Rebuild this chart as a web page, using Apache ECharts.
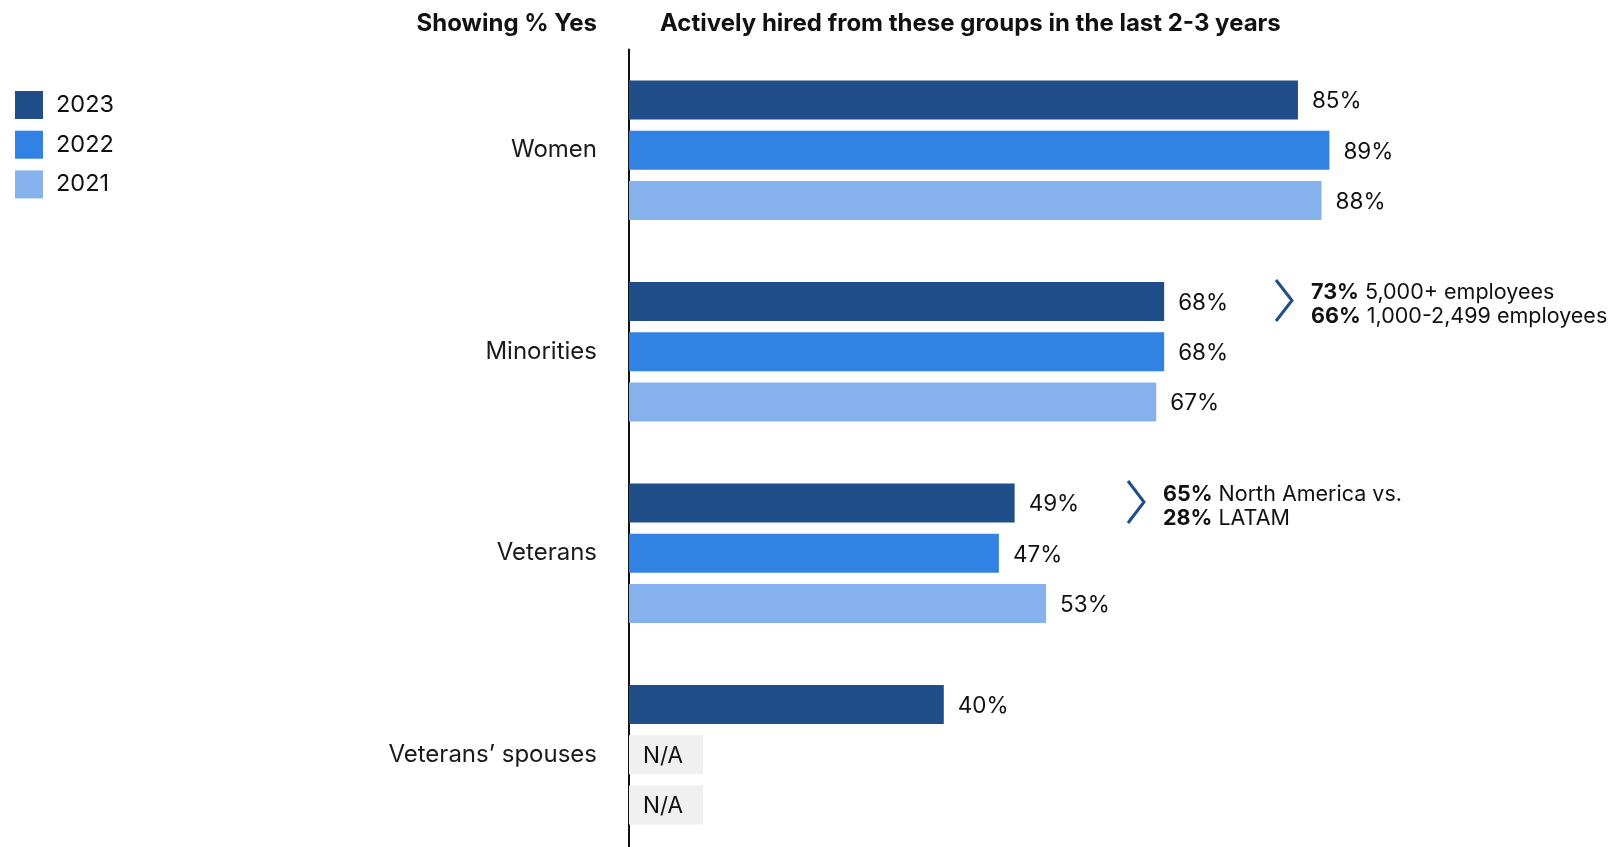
<!DOCTYPE html>
<html>
<head>
<meta charset="utf-8">
<script src="https://cdn.jsdelivr.net/npm/echarts@6/dist/echarts.min.js"></script>
<style>
html,body{margin:0;padding:0;background:#fff;overflow:hidden;}
#chart{width:1614px;height:870px;}
</style>
</head>
<body>
<div id="chart"></div>
<script>
const categories = ['Women', 'Minorities', 'Veterans', 'Veterans\u2019 spouses'];
const seriesNames = ['2023', '2022', '2021'];
const values2023 = [85, 68, 49, 40];
const values2022 = [89, 68, 47, null];
const values2021 = [88, 67, 53, null];
const naPlaceholder = 9.4; // width of the grey "N/A" placeholder box, in axis units
const colors = ['#1f4e89', '#3182e2', '#85b2ed'];
const FONT = 'Inter, "Noto Sans", sans-serif';

function buildData(arr) {
  return arr.map(v => v == null ? {
    value: naPlaceholder,
    itemStyle: { color: '#f0f0f0' },
    label: { position: 'insideLeft', distance: 14, formatter: 'N/A', offset: [0, 1.5] }
  } : v);
}

const chart = echarts.init(document.getElementById('chart'), null, { renderer: 'canvas' });
const allValues = [values2023, values2022, values2021];
const noteRich = { b: { fontWeight: 'bold', fontSize: 21.5, lineHeight: 24, fontFamily: FONT, fill: '#111' } };

chart.setOption({
  animation: false,
  textStyle: { fontFamily: FONT },
  legend: {
    orient: 'vertical',
    left: 10,
    top: 86,
    itemWidth: 28,
    itemHeight: 28,
    itemGap: 11.7,
    icon: 'rect',
    data: seriesNames,
    textStyle: { fontSize: 23.5, color: '#111', fontFamily: FONT, padding: [0, 0, 0, 8] }
  },
  grid: { left: 629, width: 787, top: 49.5, height: 806 },
  xAxis: { type: 'value', min: 0, max: 100, show: false },
  yAxis: {
    type: 'category',
    inverse: true,
    data: categories,
    axisLine: { show: true, lineStyle: { color: '#111', width: 2 } },
    axisTick: { show: false },
    axisLabel: { fontSize: 24, color: '#1a1a1a', margin: 32, fontFamily: FONT, padding: [6, 0, 0, 0] }
  },
  series: seriesNames.map((name, i) => ({
    name: name,
    type: 'bar',
    barWidth: 39,
    barGap: '29%',
    itemStyle: { color: colors[i] },
    label: {
      show: true,
      position: 'right',
      distance: 14,
      formatter: '{c}%',
      fontSize: 22.5,
      color: '#111',
      fontFamily: FONT,
      offset: [0, 1.5]
    },
    data: buildData(allValues[i])
  })),
  graphic: [
    { type: 'text', x: 597, y: 24,
      style: { text: 'Showing % Yes', align: 'right', verticalAlign: 'middle', fontSize: 24, fontWeight: 'bold', fill: '#111', fontFamily: FONT } },
    { type: 'text', x: 660, y: 24,
      style: { text: 'Actively hired from these groups in the last 2-3 years', align: 'left', verticalAlign: 'middle', fontSize: 24, fontWeight: 'bold', fill: '#111', fontFamily: FONT } },
    { type: 'polyline', shape: { points: [[1276, 280], [1292, 300.5], [1276, 321]] },
      style: { stroke: '#1f4e89', lineWidth: 3, fill: null } },
    { type: 'text', x: 1311, y: 305,
      style: {
        text: '{b|73%} 5,000+ employees\n{b|66%} 1,000-2,499 employees',
        align: 'left', verticalAlign: 'middle',
        fontSize: 21.5, lineHeight: 24, fill: '#111', fontFamily: FONT, rich: noteRich
      } },
    { type: 'polyline', shape: { points: [[1128, 481], [1144, 502], [1128, 523]] },
      style: { stroke: '#1f4e89', lineWidth: 3, fill: null } },
    { type: 'text', x: 1163, y: 506.5,
      style: {
        text: '{b|65%} North America vs.\n{b|28%} LATAM',
        align: 'left', verticalAlign: 'middle',
        fontSize: 21.5, lineHeight: 24, fill: '#111', fontFamily: FONT, rich: noteRich
      } }
  ]
});
</script>
</body>
</html>
